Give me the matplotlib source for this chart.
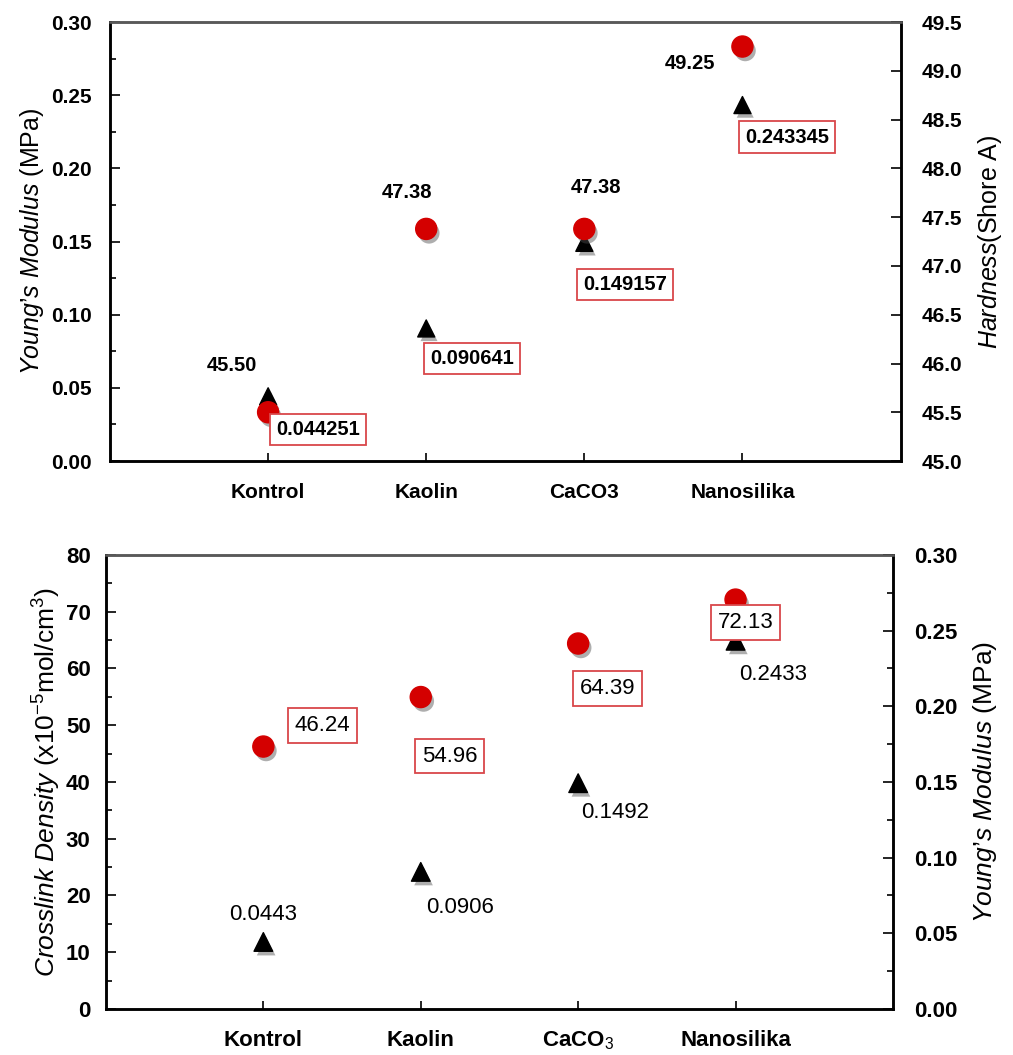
import matplotlib
matplotlib.use("Agg")
import matplotlib.pyplot as plt
import matplotlib.patheffects as pe
from matplotlib.ticker import MultipleLocator

plt.rcParams['font.family'] = ['Liberation Sans', 'DejaVu Sans']
plt.rcParams['mathtext.fontset'] = 'custom'
plt.rcParams['mathtext.rm'] = 'Liberation Sans'
plt.rcParams['mathtext.it'] = 'Liberation Sans:italic'
plt.rcParams['mathtext.bf'] = 'Liberation Sans:bold'

# data
top_categories = ["Kontrol", "Kaolin", "CaCO3", "Nanosilika"]
bottom_categories = ["Kontrol", "Kaolin", "CaCO$_3$", "Nanosilika"]
hardness = [45.50, 47.38, 47.38, 49.25]
modulus_top = [0.044251, 0.090641, 0.149157, 0.243345]
crosslink = [46.24, 54.96, 64.39, 72.13]
modulus_bottom = [0.0443, 0.0906, 0.1492, 0.2433]

hardness_labels = ["45.50", "47.38", "47.38", "49.25"]
modulus_top_labels = ["0.044251", "0.090641", "0.149157", "0.243345"]
crosslink_labels = ["46.24", "54.96", "64.39", "72.13"]
modulus_bottom_labels = ["0.0443", "0.0906", "0.1492", "0.2433"]

# label offsets (pixels)
hard_off = [(-36, 47), (-19, 36), (12, 41), (-52, -17)]
modt_off = [(50, -33), (46, -30), (41, -42), (45, -32)]
cross_off = [(59, 21), (29, -59), (29, -45), (10, -23)]
modb_off = [(0, 27), (39, -36), (37, -29), (38, -34)]

RED = "#d40000"
shadow_c = [pe.SimplePatchShadow(offset=(2, -3), shadow_rgbFace="0.3", alpha=0.45), pe.Normal()]
box = dict(boxstyle="square,pad=0.3", fc="white", ec="#d9474a", lw=1.3)

fig = plt.figure(figsize=(10.13, 10.55), dpi=100)
x = [1, 2, 3, 4]


def style_axes(ax, fs, xpad, ypad):
    ax.set_xlim(0, 5)
    ax.set_xticks(x)
    ax.tick_params(axis='x', direction='in', length=6, width=1.2, pad=xpad, labelsize=fs)
    ax.tick_params(axis='y', which='major', direction='in', length=7, width=1.2,
                   labelsize=fs, pad=ypad)
    ax.tick_params(axis='y', which='minor', direction='in', length=4, width=1.2)
    for s in ax.spines.values():
        s.set_linewidth(1.8)
    ax.spines['top'].set_color('0.35')
    for lab in ax.get_xticklabels() + ax.get_yticklabels():
        lab.set_fontweight('bold')


# ---------- top panel ----------
ax1 = fig.add_axes([0.1086, 0.563, 0.7804, 0.416])
ax1r = ax1.twinx()
ax1.set_ylim(0, 0.30)
ax1.yaxis.set_major_locator(MultipleLocator(0.05))
ax1.yaxis.set_minor_locator(MultipleLocator(0.025))
ax1.yaxis.set_major_formatter(lambda v, p: f"{v:.2f}")
ax1r.set_ylim(45.0, 49.5)
ax1r.yaxis.set_major_locator(MultipleLocator(0.5))
ax1r.yaxis.set_major_formatter(lambda v, p: f"{v:.1f}")
ax1.set_xticks(x)
ax1.set_xticklabels(top_categories)
style_axes(ax1, 15, 16, 13)
style_axes(ax1r, 15, 16, 15)
ax1r.tick_params(axis='y', which='minor', length=0)

ax1.scatter(x, modulus_top, marker='^', s=150, color='black', zorder=3, path_effects=shadow_c)
ax1r.scatter(x, hardness, marker='o', s=230, color=RED, zorder=3, path_effects=shadow_c)

for xi, v, t, o in zip(x, hardness, hardness_labels, hard_off):
    ax1r.annotate(t, (xi, v), xytext=o, textcoords='offset pixels', ha='center', va='center',
                  fontsize=14.5, fontweight='bold')
for xi, v, t, o in zip(x, modulus_top, modulus_top_labels, modt_off):
    ax1r.annotate(t, (xi, v), xycoords=ax1.transData, xytext=o, textcoords='offset pixels',
                  ha='center', va='center', fontsize=14.5, fontweight='bold', bbox=box)

ax1.set_ylabel("$\\mathit{Young\u2019s\\ Modulus}$ (MPa)", fontsize=18, labelpad=4)
ax1r.set_ylabel("$\\mathit{Hardness}$(Shore A)", fontsize=18, labelpad=10)

# ---------- bottom panel ----------
ax2 = fig.add_axes([0.1046, 0.0436, 0.7769, 0.4304])
ax2r = ax2.twinx()
ax2.set_ylim(0, 80)
ax2.yaxis.set_major_locator(MultipleLocator(10))
ax2.yaxis.set_minor_locator(MultipleLocator(5))
ax2r.set_ylim(0, 0.30)
ax2r.yaxis.set_major_locator(MultipleLocator(0.05))
ax2r.yaxis.set_minor_locator(MultipleLocator(0.025))
ax2r.yaxis.set_major_formatter(lambda v, p: f"{v:.2f}")
ax2.set_xticks(x)
ax2.set_xticklabels(bottom_categories)
style_axes(ax2, 16, 15, 11)
style_axes(ax2r, 16, 15, 15)

ax2.scatter(x, crosslink, marker='o', s=230, color=RED, zorder=3, path_effects=shadow_c)
ax2r.scatter(x, modulus_bottom, marker='^', s=180, color='black', zorder=3, path_effects=shadow_c)

for xi, v, t, o in zip(x, crosslink, crosslink_labels, cross_off):
    ax2r.annotate(t, (xi, v), xycoords=ax2.transData, xytext=o, textcoords='offset pixels',
                  ha='center', va='center', fontsize=16, bbox=box, zorder=4)
for xi, v, t, o in zip(x, modulus_bottom, modulus_bottom_labels, modb_off):
    ax2r.annotate(t, (xi, v), xytext=o, textcoords='offset pixels', ha='center', va='center',
                  fontsize=16)

ax2.set_ylabel("$\\mathit{Crosslink\\ Density}$ (x10$^{-5}$mol/cm$^{3}$)", fontsize=19, labelpad=2)
ax2r.set_ylabel("$\\mathit{Young\u2019s\\ Modulus}$ (MPa)", fontsize=19, labelpad=10)

fig.savefig("out.png", dpi=100)
